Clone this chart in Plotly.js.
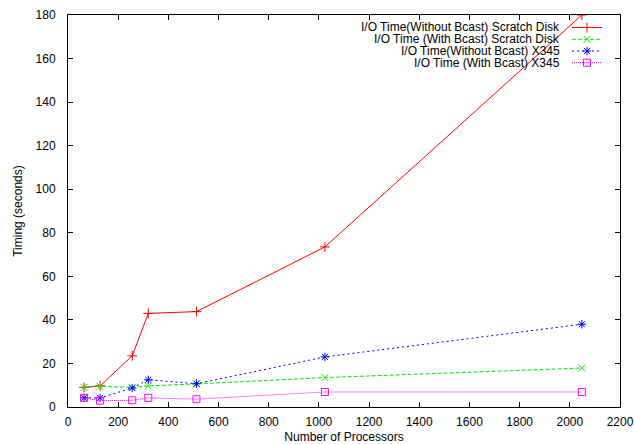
<!DOCTYPE html>
<html><head><meta charset="utf-8">
<script src="https://cdn.plot.ly/plotly-3.0.1.min.js"></script>
<style>html,body{margin:0;padding:0;background:#fff}#c{width:634px;height:444px}</style>
</head><body><div id="c"></div>
<script>
const processors = [64, 128, 256, 320, 512, 1024, 2048];
const noBcastScratch = [9, 9.7, 23.5, 43, 43.8, 73.5, 180];
const bcastScratch = [9, 9.5, 9, 9.7, 10.6, 13.5, 17.9];
const noBcastX345 = [4.2, 4.2, 8.7, 12.5, 10.7, 23, 38];
const bcastX345 = [4.2, 2.9, 3.1, 4.2, 3.6, 6.9, 6.9];
const names = ["I/O Time(Without Bcast) Scratch Disk", "I/O Time (With Bcast) Scratch Disk", "I/O Time(Without Bcast) X345", "I/O Time (With Bcast) X345"];
const xTicks = [0,200,400,600,800,1000,1200,1400,1600,1800,2000,2200];
const yTicks = [0,20,40,60,80,100,120,140,160,180];

const W = 634, H = 444, L = 68, R = 14, T = 15, B = 37;
const font = {family: "Liberation Sans, Arial, sans-serif", size: 12, color: "#000"};
const legendNames = ["legend", "legend2", "legend3", "legend4"];
const rowPx = [27.5, 39.3, 51, 62.7];
const pw = W - L - R, ph = H - T - B;
function tr(y, i, color, dash, symbol) {
  return {x: processors, y: y, name: "", legend: legendNames[i], mode: "lines+markers", type: "scatter",
    line: {color: color, width: 1, dash: dash},
    marker: {symbol: symbol, size: 7, color: color, line: {color: color, width: 1}}};
}
const data = [
  tr(noBcastScratch, 0, "#ff0000", "solid", "cross-thin"),
  tr(bcastScratch, 1, "#00ee00", "4px,2px", "x-thin"),
  tr(noBcastX345, 2, "#0000ff", "2px,3px", "asterisk-open"),
  tr(bcastX345, 3, "#ff00ff", "1px,1px", "square-open")
];
const axisCommon = {showline: true, linecolor: "#000", linewidth: 1, mirror: "ticks", ticks: "inside", ticklen: 5, tickcolor: "#000", showgrid: false, zeroline: false, tickfont: font};
const layout = {
  width: W, height: H, margin: {l: L, r: R, t: T, b: B},
  paper_bgcolor: "#fff", plot_bgcolor: "#fff", font: font,
  xaxis: Object.assign({}, axisCommon, {range: [0, 2200], tickvals: xTicks, ticklabelstandoff: 4, title: {text: "Number of Processors", font: font, standoff: 4}}),
  yaxis: Object.assign({}, axisCommon, {range: [0, 180], tickvals: yTicks, ticklabelstandoff: 9, title: {text: "Timing (seconds)", font: font, standoff: 10}}),
  showlegend: true,
  annotations: names.map((n, i) => ({text: n, xref: "paper", yref: "paper", x: (561 - L) / pw, y: 1 - (rowPx[i] - T) / ph, xanchor: "right", yanchor: "middle", borderpad: 0, showarrow: false, font: font}))
};
legendNames.forEach((ln, i) => {
  layout[ln] = {x: (567 - L) / pw, xanchor: "left", y: 1 - (rowPx[i] - T) / ph, yanchor: "middle", bgcolor: "rgba(0,0,0,0)", font: font, itemwidth: 30, borderwidth: 0};
});
Plotly.newPlot("c", data, layout, {staticPlot: true});
</script></body></html>
